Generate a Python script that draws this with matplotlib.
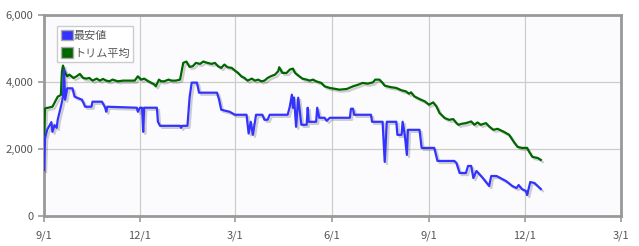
import matplotlib
matplotlib.use("Agg")
import matplotlib.pyplot as plt
import matplotlib.dates as mdates
import matplotlib.patheffects as pe
from matplotlib.patches import Patch
import pandas as pd

plt.rcParams['font.family'] = ['Noto Sans CJK JP', 'DejaVu Sans']

start = pd.Timestamp('2022-09-01')

# 最安値 (days since 9/1, price)
low_days = [0, 1, 3, 7, 8, 10, 12, 13, 16, 18, 19, 20, 22, 27, 29, 36, 39, 45, 46, 55, 58, 59, 60,
            88, 89, 91, 93, 94, 95, 107, 108, 110, 129, 130, 131, 136, 138, 140, 145, 147, 164, 166,
            168, 176, 181, 192, 194, 196, 198, 200, 201, 207, 209, 212, 214, 231, 233, 235, 236,
            237, 239, 241, 244, 249, 250, 251, 258, 259, 261, 266, 268, 271, 290, 291, 293, 294,
            310, 311, 321, 323, 325, 334, 335, 339, 340, 342, 344, 345, 356, 358, 370, 373, 389,
            391, 394, 400, 402, 405, 407, 410, 416, 422, 424, 429, 438, 444, 448, 450, 453, 457,
            458, 461, 465, 468, 471]
low_vals = [1360, 2320, 2560, 2790, 2500, 2700, 2620, 2860, 3250, 3540, 4350, 3460, 3800, 3800, 3550,
            3460, 3250, 3250, 3400, 3400, 3220, 3100, 3250,
            3220, 3100, 3220, 3220, 2500, 3220, 3220, 2800, 2680, 2680, 2620, 2680, 2680, 3520, 3970,
            3970, 3670, 3670, 3460,
            3160, 3100, 3010, 3010, 2450, 2800, 2410, 2800, 3010, 3010, 2860, 2860, 3010, 3010, 3250,
            3610, 3220,
            3520, 2650, 3520, 2710, 2710, 3220, 2800, 2800, 3220, 2920, 2920, 2830, 2920, 2920, 3190,
            3190, 3010,
            3010, 2800, 2800, 1600, 2800, 2800, 2410, 2410, 2800, 2410, 1810, 2560, 2560, 2020, 2020,
            1630, 1630,
            1570, 1270, 1270, 1480, 1480, 1120, 1330, 1120, 880, 1180, 1180, 1030, 880, 820, 910, 790,
            730,
            610, 1000, 970, 880, 790]

# トリム平均
trim_days = [0, 1, 8, 13, 16, 17, 18, 20, 22, 24, 28, 31, 34, 37, 40, 43, 46, 50, 53, 56, 59, 62,
             65, 70, 75, 81, 86, 89, 92, 95, 99, 102, 105, 106, 109, 111, 114, 118, 121, 125, 129,
             132, 135, 138, 141, 144, 148, 151, 155, 159, 162, 165, 168, 171, 174, 178, 181, 184,
             187, 190, 193, 197, 200, 203, 206, 209, 212, 215, 219, 222, 223, 226, 230, 233, 236,
             238, 242, 245, 249, 252, 255, 258, 263, 266, 271, 275, 280, 287, 293, 298, 302, 307,
             312, 314, 318, 321, 323, 328, 334, 339, 343, 346, 348, 351, 356, 361, 365, 369, 372,
             375, 380, 384, 388, 391, 393, 396, 400, 405, 408, 411, 414, 419, 422, 426, 430, 436,
             441, 446, 449, 453, 458, 460, 463, 468, 471]
trim_vals = [2400, 3200, 3250, 3550, 3600, 4300, 4480, 4260, 4160, 4210, 4110, 4160, 4230, 4110, 4090,
             4110, 4030, 4090, 4030, 4080, 4030, 4010,
             4060, 4010, 4030, 4030, 4030, 4160, 4060, 4090, 4010, 3960, 3910, 3860, 4060, 4010, 4010,
             4060, 4030, 4030, 4060,
             4560, 4600, 4440, 4460, 4560, 4530, 4600, 4560, 4530, 4560, 4460, 4410, 4510, 4430, 4410,
             4330, 4260,
             4160, 4110, 4030, 4090, 4030, 4060, 4010, 4030, 4110, 4160, 4210, 4310, 4430, 4260, 4260,
             4360, 4390,
             4260, 4160, 4090, 4060, 4030, 4060, 4010, 3960, 3860, 3810, 3790, 3760, 3780, 3860, 3910,
             3960, 3940,
             3980, 4060, 4060, 3960, 3880, 3840, 3810, 3740, 3710, 3640, 3680, 3560, 3480, 3410, 3310,
             3380, 3260,
             3060, 2910, 2860, 2880, 2760, 2710, 2740, 2760, 2810, 2710, 2780, 2710, 2760, 2660, 2560,
             2590, 2500,
             2410, 2170, 2050, 2020, 2020, 1900, 1750, 1720, 1660]

low_dates = start + pd.to_timedelta(low_days, unit='D')
trim_dates = start + pd.to_timedelta(trim_days, unit='D')

blue = '#3333ff'
green = '#006600'
grey = '#999999'

fig = plt.figure(figsize=(6.39, 2.46), dpi=100)
ax = fig.add_axes([44 / 639, 1 - 215.5 / 246, 577 / 639, (215.5 - 14.7) / 246])
ax.set_facecolor('#fbfbfd')

shadow = [pe.SimpleLineShadow(offset=(1.5, -1.5), shadow_color='#000000', alpha=0.18), pe.Normal()]
ax.plot(trim_dates, trim_vals, color=green, lw=1.6, path_effects=shadow, zorder=3)
ax.plot(low_dates, low_vals, color=blue, lw=1.6, path_effects=shadow, zorder=3)

ax.set_xlim(pd.Timestamp('2022-09-01'), pd.Timestamp('2024-03-01'))
ax.set_ylim(0, 6000)
ax.set_yticks([0, 2000, 4000, 6000])
ax.set_yticklabels(['0', '2,000', '4,000', '6,000'])
ax.xaxis.set_major_locator(mdates.MonthLocator(bymonth=[3, 6, 9, 12]))
ax.xaxis.set_major_formatter(mdates.DateFormatter('%-m/%-d'))

ax.grid(True, color='#cccccc', lw=0.9)
ax.set_axisbelow(True)
for s in ax.spines.values():
    s.set_color(grey)
    s.set_linewidth(2)
ax.tick_params(axis='both', colors=grey, labelcolor='#555555', labelsize=8, length=4, width=1.2)
ax.tick_params(axis='x', pad=7)

handles = [Patch(facecolor=blue, edgecolor='#aaaaaa', label='最安値'),
           Patch(facecolor=green, edgecolor='#aaaaaa', label='トリム平均')]
leg = ax.legend(handles=handles, loc='upper left', bbox_to_anchor=(0.022, 0.945), fontsize=8,
                handlelength=1.1, handleheight=1.1, handletextpad=0.1, borderpad=0.35,
                labelspacing=0.6, fancybox=False, framealpha=1, borderaxespad=0)
leg.get_frame().set_edgecolor('#cccccc')
leg.get_frame().set_linewidth(1)
for t in leg.get_texts():
    t.set_color('#555555')

fig.savefig('out.png', dpi=100)
